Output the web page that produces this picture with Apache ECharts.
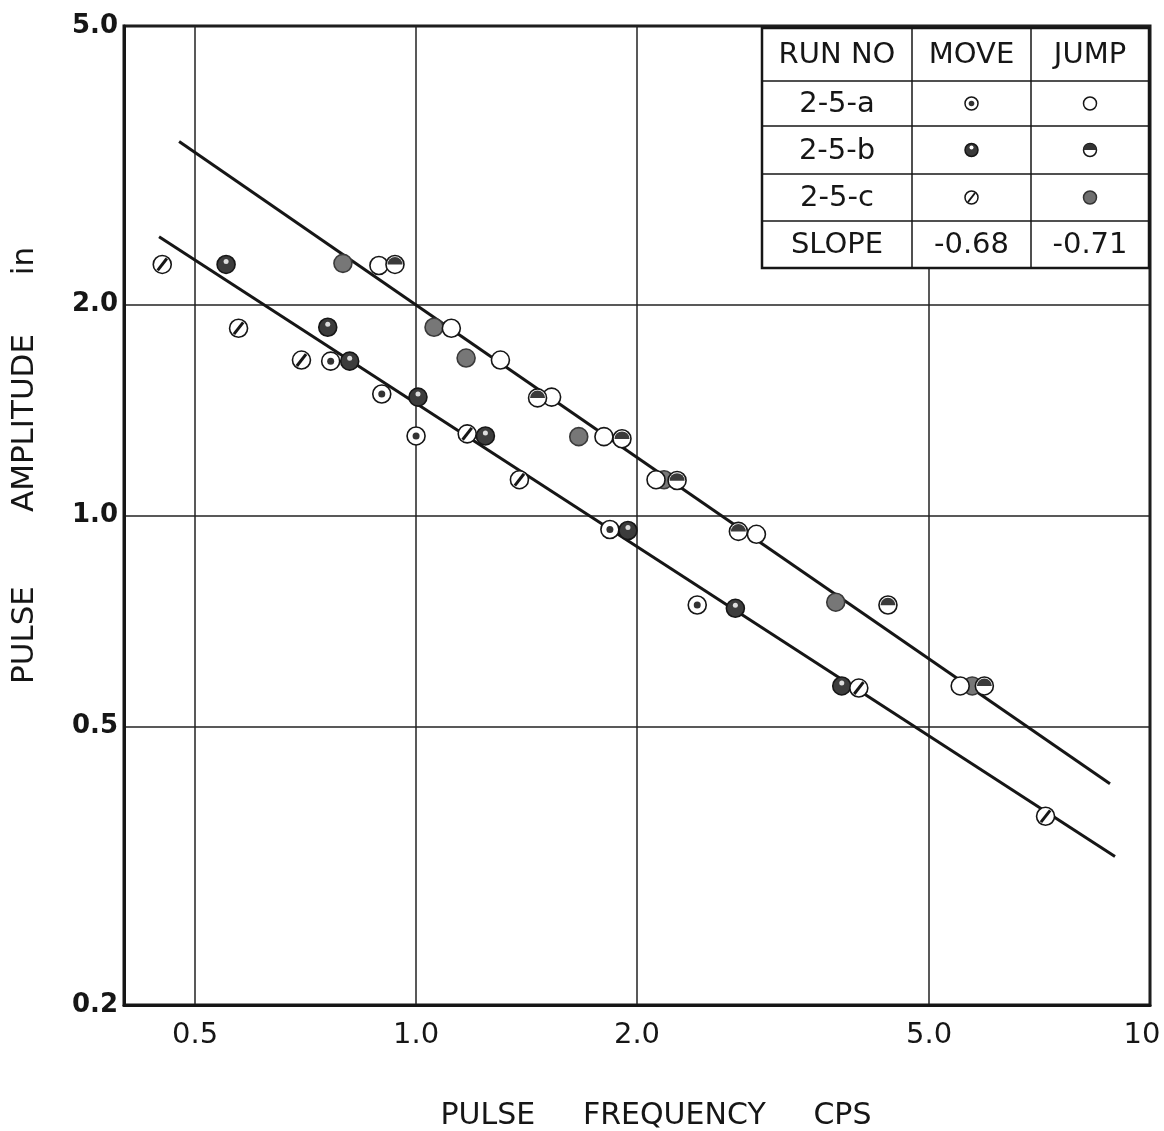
<!DOCTYPE html>
<html>
<head>
<meta charset="utf-8">
<title>Pulse amplitude vs pulse frequency</title>
<script src="https://cdn.jsdelivr.net/npm/echarts@6/dist/echarts.min.js"></script>
<style>
  html, body { margin: 0; background: #fff; }
  #main { width: 1164px; height: 1131px; }
</style>
</head>
<body>
<div id="main"></div>
<script>
// axis ticks
var xTicks = [0.5, 1, 2, 5, 10];
var xTickLabels = ['0.5', '1.0', '2.0', '5.0', '10'];
var yTicks = [0.2, 0.5, 1, 2, 5];
var yTickLabels = ['0.2', '0.5', '1.0', '2.0', '5.0'];

// MOVE points  [frequency cps, amplitude in]
var move2a = [[0.765, 1.661], [0.898, 1.491], [1.0, 1.299], [1.837, 0.955], [2.416, 0.745]];
var move2b = [[0.551, 2.283], [0.758, 1.857], [0.812, 1.661], [1.006, 1.476], [1.243, 1.299],
              [1.944, 0.952], [2.723, 0.737], [3.802, 0.571]];
var move2c = [[0.451, 2.283], [0.573, 1.851], [0.698, 1.667], [1.174, 1.308], [1.383, 1.125],
              [4.011, 0.567], [7.206, 0.372]];

// JUMP points
var jump2a = [[0.890, 2.275], [1.117, 1.851], [1.303, 1.667], [1.530, 1.476], [1.803, 1.296],
              [2.123, 1.125], [2.909, 0.940], [5.513, 0.571]];
var jump2b = [[0.936, 2.283], [1.464, 1.472], [1.908, 1.287], [2.268, 1.122], [2.749, 0.949],
              [4.395, 0.745], [5.947, 0.571]];
var jump2c = [[0.795, 2.291], [1.058, 1.857], [1.170, 1.678], [1.666, 1.296], [2.177, 1.125],
              [3.731, 0.752], [5.725, 0.571]];

// fitted lines (end points)
var moveLine = [[0.4465, 2.50], [8.96, 0.326]];
var jumpLine = [[0.4755, 3.42], [8.82, 0.414]];

var ink = '#161616';

function pick(ticks, labels) {
  return function (v) {
    for (var i = 0; i < ticks.length; i++) {
      if (Math.abs(ticks[i] - v) < 1e-6 * ticks[i]) return labels[i];
    }
    return '';
  };
}
var xLabel = pick(xTicks, xTickLabels);

function dots(name, data, fill, border, z) {
  return {
    name: name, type: 'scatter', data: data, symbol: 'circle', symbolSize: 18,
    itemStyle: { color: fill, borderColor: border, borderWidth: 1.6, opacity: 1 },
    z: z || 3, silent: true
  };
}
function overlay(data, symbol, size, color, more) {
  var s = {
    type: 'scatter', data: data, symbol: symbol, symbolSize: size,
    itemStyle: { color: color, opacity: 1 }, z: 4, silent: true
  };
  for (var k in more) s[k] = more[k];
  return s;
}
function fitLine(data) {
  return {
    type: 'line', data: data, showSymbol: false, silent: true, z: 2,
    lineStyle: { color: ink, width: 3 }
  };
}

var halfTop = 'path://M0,5 A5,5 0 0 1 10,5 Z';

// legend table
var tx = [762, 912, 1031, 1149];
var ty = [28, 81, 126, 174, 221, 268];
var tFont = '29px "DejaVu Sans"';
var table = [
  { type: 'rect', shape: { x: tx[0], y: ty[0], width: tx[3] - tx[0], height: ty[5] - ty[0] },
    style: { fill: '#fff', stroke: ink, lineWidth: 2.5 }, z: 20 }
];
[1, 2, 3, 4].forEach(function (i) {
  table.push({ type: 'line', shape: { x1: tx[0], y1: ty[i], x2: tx[3], y2: ty[i] },
    style: { stroke: ink, lineWidth: 1.5 }, z: 21 });
});
[1, 2].forEach(function (i) {
  table.push({ type: 'line', shape: { x1: tx[i], y1: ty[0], x2: tx[i], y2: ty[5] },
    style: { stroke: ink, lineWidth: 1.5 }, z: 21 });
});
var rows = [['RUN NO', 'MOVE', 'JUMP'], ['2-5-a', '', ''], ['2-5-b', '', ''], ['2-5-c', '', ''],
            ['SLOPE', '-0.68', '-0.71']];
rows.forEach(function (r, i) {
  r.forEach(function (t, j) {
    if (!t) return;
    table.push({ type: 'text', x: (tx[j] + tx[j + 1]) / 2, y: (ty[i] + ty[i + 1]) / 2 + 1,
      style: { text: t, font: tFont, fill: ink, align: 'center', verticalAlign: 'middle' }, z: 22 });
  });
});
var cm = (tx[1] + tx[2]) / 2, cj = (tx[2] + tx[3]) / 2;
function cy(i) { return (ty[i] + ty[i + 1]) / 2; }
var r0 = 6.5;
table.push(
  { type: 'circle', shape: { cx: cm, cy: cy(1), r: r0 }, style: { fill: '#fff', stroke: ink, lineWidth: 1.5 }, z: 22 },
  { type: 'circle', shape: { cx: cm, cy: cy(1), r: 2.8 }, style: { fill: '#333' }, z: 23 },
  { type: 'circle', shape: { cx: cj, cy: cy(1), r: r0 }, style: { fill: '#fff', stroke: ink, lineWidth: 1.5 }, z: 22 },
  { type: 'circle', shape: { cx: cm, cy: cy(2), r: r0 }, style: { fill: '#3a3a3a', stroke: ink, lineWidth: 1.5 }, z: 22 },
  { type: 'circle', shape: { cx: cm, cy: cy(2) - 2.5, r: 2 }, style: { fill: '#fff' }, z: 23 },
  { type: 'circle', shape: { cx: cj, cy: cy(2), r: r0 }, style: { fill: '#fff', stroke: ink, lineWidth: 1.5 }, z: 22 },
  { type: 'sector', shape: { cx: cj, cy: cy(2), r: r0, r0: 0, startAngle: Math.PI, endAngle: Math.PI * 2 },
    style: { fill: '#333' }, z: 23 },
  { type: 'circle', shape: { cx: cm, cy: cy(3), r: r0 }, style: { fill: '#fff', stroke: ink, lineWidth: 1.5 }, z: 22 },
  { type: 'line', shape: { x1: cm - 3.5, y1: cy(3) + 4.5, x2: cm + 3.5, y2: cy(3) - 4.5 },
    style: { stroke: ink, lineWidth: 2 }, z: 23 },
  { type: 'circle', shape: { cx: cj, cy: cy(3), r: r0 }, style: { fill: '#6f6f6f', stroke: '#333', lineWidth: 1.5 }, z: 22 }
);

// axis titles
var yTitle = [['PULSE', 635], ['AMPLITUDE', 423], ['in', 261]];
var titles = yTitle.map(function (w) {
  return { type: 'text', x: 25, y: w[1], rotation: Math.PI / 2,
    style: { text: w[0], font: '31px "DejaVu Sans"', fill: ink, align: 'center', verticalAlign: 'middle' } };
});
titles.push({ type: 'text', x: 656, y: 1116,
  style: { text: 'PULSE     FREQUENCY     CPS', font: '30px "DejaVu Sans"', fill: ink,
           align: 'center', verticalAlign: 'middle' } });

var chart = echarts.init(document.getElementById('main'), null, { renderer: 'canvas' });
chart.setOption({
  backgroundColor: '#fff',
  animation: false,
  grid: { left: 124, top: 26, right: 14, bottom: 126, show: true, borderColor: ink, borderWidth: 3,
          backgroundColor: 'transparent', outerBoundsMode: 'none' },
  xAxis: {
    type: 'log', logBase: 10, min: 0.4, max: 10,
    axisLine: { show: true, onZero: false, lineStyle: { color: ink, width: 3 } },
    axisTick: { show: false, customValues: xTicks },
    axisLabel: {
      customValues: xTicks, margin: 16, fontSize: 29, color: ink, fontFamily: 'DejaVu Sans',
      formatter: function (v) {
        var t = xLabel(v);
        return v >= 10 ? '{r|' + t + '}' : t;
      },
      rich: { r: { fontSize: 29, color: ink, fontFamily: 'DejaVu Sans', padding: [0, 16, 0, 0] } }
    },
    splitLine: { show: true, lineStyle: { color: '#222', width: 1.5 } }
  },
  yAxis: {
    type: 'log', logBase: 10, min: 0.2, max: 5,
    axisLine: { show: true, onZero: false, lineStyle: { color: ink, width: 3 } },
    axisTick: { show: false, customValues: yTicks },
    axisLabel: { customValues: yTicks, formatter: pick(yTicks, yTickLabels), margin: 6,
                 fontSize: 26, fontWeight: 'bold', color: ink, fontFamily: 'DejaVu Sans' },
    splitLine: { show: true, lineStyle: { color: '#222', width: 1.5 } }
  },
  graphic: titles.concat(table),
  series: [
    fitLine(moveLine),
    fitLine(jumpLine),
    dots('2-5-a move', move2a, '#fff', ink),
    overlay(move2a, 'circle', 7, '#333'),
    dots('2-5-b move', move2b, '#3c3c3c', ink),
    overlay(move2b, 'circle', 5, '#ddd', { symbolOffset: [0, -3] }),
    dots('2-5-c move', move2c, '#fff', ink),
    overlay(move2c, 'rect', [3, 15], ink, { symbolRotate: -38 }),
    dots('2-5-c jump', jump2c, '#777', '#3a3a3a'),
    dots('2-5-a jump', jump2a, '#fff', ink),
    dots('2-5-b jump', jump2b, '#fff', ink),
    overlay(jump2b, halfTop, [15, 7.5], '#3a3a3a', { symbolOffset: [0, -3.6] })
  ]
});
</script>
</body>
</html>
